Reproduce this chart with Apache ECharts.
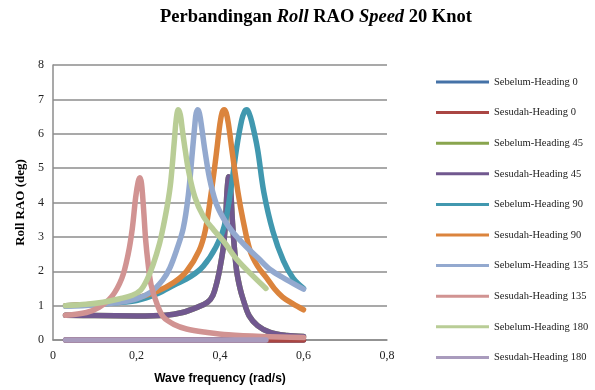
<!DOCTYPE html>
<html>
<head>
<meta charset="utf-8">
<script src="https://cdn.jsdelivr.net/npm/echarts@6/dist/echarts.min.js"></script>
<style>
html,body{margin:0;padding:0;background:#fff;}
#chart{width:595px;height:390px;}
</style>
</head>
<body>
<div id="chart"></div>
<script>
// Series names (legend order)
var seriesNames = ['Sebelum-Heading 0','Sesudah-Heading 0','Sebelum-Heading 45','Sesudah-Heading 45','Sebelum-Heading 90','Sesudah-Heading 90','Sebelum-Heading 135','Sesudah-Heading 135','Sebelum-Heading 180','Sesudah-Heading 180'];

// Tick labels
var xTicks = [0, 0.2, 0.4, 0.6, 0.8];
var yTicks = [0, 1, 2, 3, 4, 5, 6, 7, 8];

// Sebelum-Heading 0
var seb0X = [0.03, 0.6];
var seb0Y = [0, 0];
// Sesudah-Heading 0
var ses0X = [0.03, 0.6];
var ses0Y = [0, 0];
// Sesudah-Heading 45
var ses45X = [0.03, 0.10, 0.20, 0.27, 0.31, 0.345, 0.37, 0.383, 0.393, 0.40, 0.408, 0.413, 0.417, 0.421, 0.425, 0.43, 0.435, 0.44, 0.448, 0.455, 0.47, 0.49, 0.52, 0.56, 0.60];
var ses45Y = [0.72, 0.71, 0.70, 0.72, 0.80, 0.95, 1.10, 1.30, 1.70, 2.10, 2.70, 3.40, 4.35, 4.75, 4.45, 3.40, 2.60, 2.00, 1.50, 1.20, 0.70, 0.42, 0.22, 0.13, 0.10];
// Sebelum-Heading 45 (coincides with Sesudah-Heading 45)
var seb45X = ses45X.slice();
var seb45Y = ses45Y.slice();
// Sebelum-Heading 90
var seb90X = [0.03, 0.10, 0.15, 0.20, 0.25, 0.29, 0.33, 0.36, 0.39, 0.41, 0.425, 0.44, 0.452, 0.459, 0.464, 0.469, 0.476, 0.49, 0.505, 0.527, 0.552, 0.575, 0.60];
var seb90Y = [1.00, 1.03, 1.08, 1.15, 1.35, 1.60, 1.85, 2.15, 2.70, 3.30, 4.30, 5.60, 6.40, 6.65, 6.70, 6.62, 6.35, 5.55, 4.30, 3.15, 2.30, 1.80, 1.50];
// Sesudah-Heading 90
var ses90X = [0.03, 0.10, 0.15, 0.20, 0.25, 0.29, 0.32, 0.35, 0.365, 0.378, 0.39, 0.40, 0.405, 0.41, 0.415, 0.42, 0.43, 0.443, 0.455, 0.472, 0.49, 0.512, 0.53, 0.55, 0.575, 0.60];
var ses90Y = [1.00, 1.04, 1.10, 1.22, 1.42, 1.68, 2.00, 2.60, 3.20, 4.20, 5.30, 6.30, 6.62, 6.70, 6.60, 6.30, 5.40, 4.30, 3.50, 2.60, 2.15, 1.80, 1.50, 1.25, 1.05, 0.88];
// Sebelum-Heading 135
var seb135X = [0.03, 0.10, 0.15, 0.20, 0.235, 0.263, 0.28, 0.297, 0.312, 0.324, 0.334, 0.34, 0.343, 0.347, 0.351, 0.356, 0.364, 0.375, 0.39, 0.41, 0.43, 0.46, 0.49, 0.52, 0.56, 0.60];
var seb135Y = [0.98, 1.02, 1.08, 1.20, 1.40, 1.75, 2.10, 2.65, 3.25, 4.20, 5.50, 6.30, 6.60, 6.70, 6.58, 6.20, 5.50, 4.70, 4.00, 3.50, 3.15, 2.75, 2.40, 2.05, 1.75, 1.48];
// Sesudah-Heading 135
var ses135X = [0.03, 0.08, 0.11, 0.14, 0.165, 0.18, 0.19, 0.198, 0.204, 0.208, 0.212, 0.217, 0.222, 0.228, 0.235, 0.25, 0.265, 0.29, 0.32, 0.37, 0.42, 0.50, 0.60];
var ses135Y = [0.72, 0.80, 0.95, 1.25, 1.80, 2.50, 3.25, 4.15, 4.60, 4.72, 4.55, 3.80, 2.90, 2.20, 1.60, 1.02, 0.66, 0.45, 0.32, 0.22, 0.15, 0.10, 0.07];
// Sebelum-Heading 180
var seb180X = [0.03, 0.08, 0.12, 0.16, 0.19, 0.21, 0.225, 0.24, 0.255, 0.265, 0.275, 0.282, 0.29, 0.295, 0.30, 0.305, 0.31, 0.317, 0.325, 0.34, 0.36, 0.385, 0.41, 0.44, 0.48, 0.51];
var seb180Y = [1.00, 1.04, 1.10, 1.20, 1.30, 1.45, 1.75, 2.20, 2.80, 3.35, 4.00, 4.60, 5.70, 6.40, 6.70, 6.55, 6.10, 5.50, 4.90, 4.15, 3.60, 3.20, 2.85, 2.35, 1.85, 1.50];
// Sesudah-Heading 180
var ses180X = [0.03, 0.51];
var ses180Y = [0, 0];

var colors = ['#4572A7', '#AA4643', '#89A54E', '#71588F', '#4198AF', '#DB843D', '#93A9CF', '#D19392', '#B9CD96', '#A99BBD'];

var xs = [seb0X, ses0X, seb45X, ses45X, seb90X, ses90X, seb135X, ses135X, seb180X, ses180X];
var ys = [seb0Y, ses0Y, seb45Y, ses45Y, seb90Y, ses90Y, seb135Y, ses135Y, seb180Y, ses180Y];

function pairs(x, y) {
  var out = [];
  for (var i = 0; i < x.length; i++) out.push([x[i], y[i]]);
  return out;
}

var series = seriesNames.map(function (name, i) {
  return {
    name: name,
    type: 'line',
    data: pairs(xs[i], ys[i]),
    smooth: 0.35,
    showSymbol: false,
    symbol: 'none',
    clip: false,
    lineStyle: { width: 5.5, color: colors[i], cap: 'round', join: 'round' },
    itemStyle: { color: colors[i] },
    emphasis: { disabled: true },
    animation: false
  };
});

var chart = echarts.init(document.getElementById('chart'), null, { renderer: 'canvas' });
chart.setOption({
  animation: false,
  backgroundColor: '#ffffff',
  color: colors,
  title: {
    text: '{b|Perbandingan }{bi|Roll}{b| RAO }{bi|Speed}{b| 20 Knot}',
    left: 155,
    top: 3,
    textStyle: {
      rich: {
        b: { fontFamily: 'Liberation Serif', fontWeight: 'bold', fontSize: 18.5, color: '#000' },
        bi: { fontFamily: 'Liberation Serif', fontWeight: 'bold', fontStyle: 'italic', fontSize: 18.5, color: '#000' }
      }
    }
  },
  legend: {
    orient: 'vertical',
    left: 436,
    top: 76,
    padding: 0,
    itemWidth: 53,
    itemHeight: 3,
    itemGap: 18.6,
    icon: 'rect',
    textStyle: { fontFamily: 'Liberation Serif', fontSize: 10.5, color: '#222', lineHeight: 12 },
    data: seriesNames
  },
  grid: { left: 53, right: 208, top: 65, bottom: 47, containLabel: false },
  xAxis: {
    type: 'value',
    min: xTicks[0],
    max: xTicks[xTicks.length - 1],
    interval: 0.2,
    name: 'Wave frequency (rad/s)',
    nameLocation: 'middle',
    nameGap: 33,
    nameTextStyle: { fontFamily: 'Liberation Sans', fontWeight: 'bold', fontSize: 12, color: '#000' },
    axisLine: { show: true, onZero: false, lineStyle: { color: '#8c8c8c', width: 1.5 } },
    axisTick: { show: false },
    splitLine: { show: false },
    axisLabel: {
      margin: 10,
      fontFamily: 'Liberation Serif', fontSize: 12, color: '#222',
      formatter: function (v) { return v === 0 ? '0' : v.toFixed(1).replace('.', ','); }
    }
  },
  yAxis: {
    type: 'value',
    min: yTicks[0],
    max: yTicks[yTicks.length - 1],
    interval: 1,
    name: 'Roll RAO (deg)',
    nameLocation: 'middle',
    nameGap: 24,
    nameRotate: 90,
    nameTextStyle: { fontFamily: 'Liberation Serif', fontWeight: 'bold', fontSize: 13, color: '#000' },
    axisLine: { show: true, lineStyle: { color: '#8c8c8c', width: 1.5 } },
    axisTick: { show: false },
    splitLine: { show: true, lineStyle: { color: '#8c8c8c', width: 1.5 } },
    axisLabel: { margin: 9, fontFamily: 'Liberation Serif', fontSize: 12, color: '#222' }
  },
  series: series
});
</script>
</body>
</html>
